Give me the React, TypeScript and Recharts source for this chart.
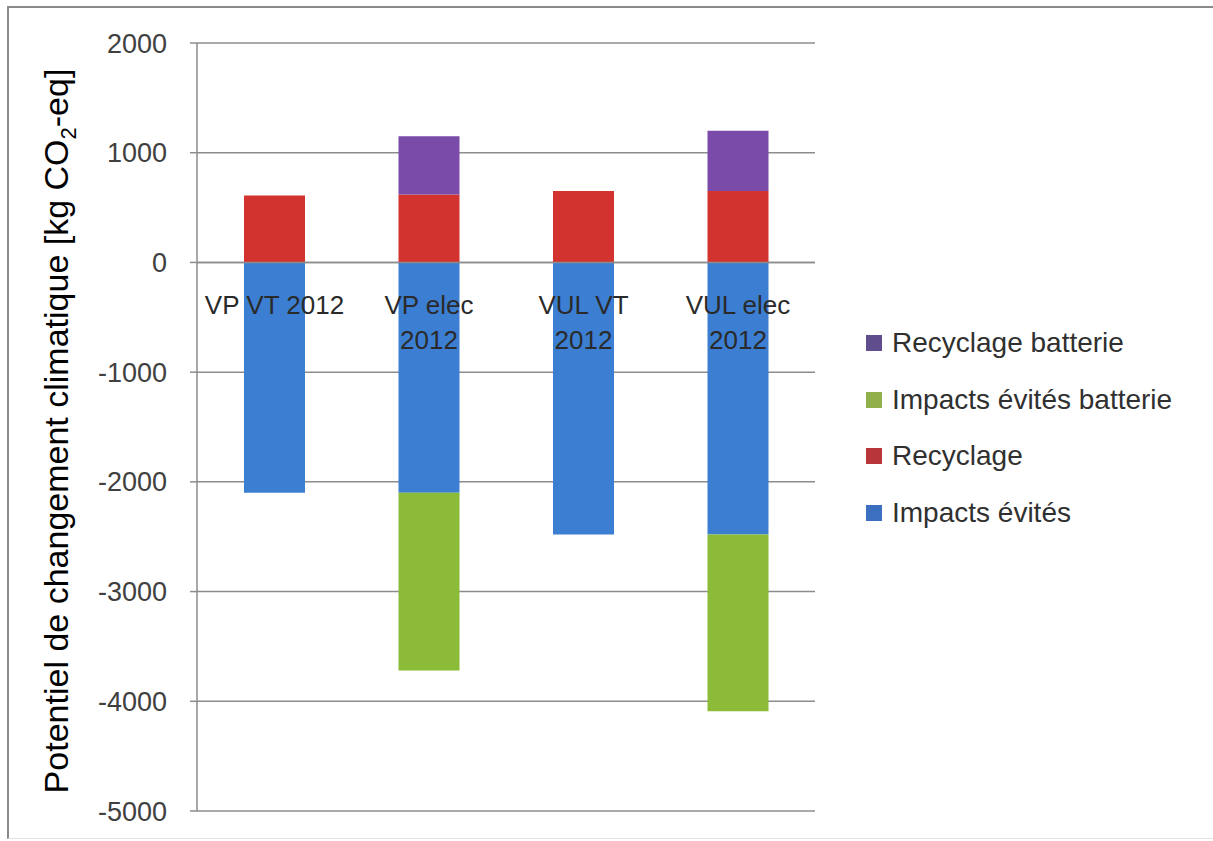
import React from 'react'
import {
  BarChart,
  Bar,
  XAxis,
  YAxis,
  CartesianGrid,
  LabelList,
  ReferenceLine,
} from 'recharts'

const categories = ['VP VT 2012', 'VP elec 2012', 'VUL VT 2012', 'VUL elec 2012']
const categoryLines = [['VP VT 2012'], ['VP elec', '2012'], ['VUL VT', '2012'], ['VUL elec', '2012']]
const impactsEvites = [-2100, -2100, -2480, -2480]
const recyclage = [610, 620, 650, 650]
const impactsEvitesBatterie = [0, -1620, 0, -1610]
const recyclageBatterie = [0, 530, 0, 550]
const yTicks = [-5000, -4000, -3000, -2000, -1000, 0, 1000, 2000]

const series = [
  { key: 'impactsEvites', name: 'Impacts évités', color: '#3c7fd2', mark: '#3b6fbf' },
  { key: 'recyclage', name: 'Recyclage', color: '#d3332f', mark: '#b8363a' },
  { key: 'impactsEvitesBatterie', name: 'Impacts évités batterie', color: '#8cbb38', mark: '#8fb04a' },
  { key: 'recyclageBatterie', name: 'Recyclage batterie', color: '#7a4ba8', mark: '#5f4d8e' },
]

const data = categories.map((name, i) => ({
  name,
  impactsEvites: impactsEvites[i],
  recyclage: recyclage[i],
  impactsEvitesBatterie: impactsEvitesBatterie[i],
  recyclageBatterie: recyclageBatterie[i],
}))

const FONT = '"Liberation Sans", Arial, sans-serif'

// category names sit just under the zero line, over the bars (Excel style)
const CategoryLabel = (props: any) => {
  const { x, y, width, height, index } = props
  const top = Math.min(y, y + height)
  const cx = x + width / 2
  const lines = categoryLines[index] || []
  return (
    <text x={cx} y={top + 52} textAnchor="middle" fontSize={26} fill="#2a2a2a" fontFamily={FONT}>
      {lines.map((l, i) => (
        <tspan key={i} x={cx} dy={i === 0 ? 0 : 35}>
          {l}
        </tspan>
      ))}
    </text>
  )
}

const YLabel = (props: any) => {
  const { viewBox } = props
  const x = viewBox.x + 56
  const y = viewBox.y + viewBox.height / 2 + 4
  return (
    <text
      x={x}
      y={y}
      transform={`rotate(-90, ${x}, ${y})`}
      textAnchor="middle"
      dominantBaseline="central"
      fontSize={34}
      fill="#000"
      fontFamily={FONT}
    >
      Potentiel de changement climatique [kg CO
      <tspan baselineShift="sub" fontSize={22}>2</tspan>
      <tspan>-eq]</tspan>
    </text>
  )
}

const LegendBox = () => (
  <div style={{ position: 'absolute', left: 866, top: 315, fontFamily: FONT, fontSize: 28, color: '#303030' }}>
    {[...series].reverse().map((s) => (
      <div key={s.key} style={{ display: 'flex', alignItems: 'center', height: 56.5, whiteSpace: 'nowrap' }}>
        <span style={{ width: 16, height: 16, background: s.mark, marginRight: 10, display: 'inline-block' }} />
        <span>{s.name}</span>
      </div>
    ))}
  </div>
)

export default function App() {
  return (
    <div style={{ position: 'absolute', left: 0, top: 0, width: 1213, height: 841, background: '#fff' }}>
      <div
        style={{
          position: 'absolute',
          left: 7,
          top: 6,
          width: 1204,
          height: 830,
          borderTop: '2px solid #8a8a8a',
          borderLeft: '2px solid #8a8a8a',
          borderRight: '1px solid #d0d0d0',
          borderBottom: '1px solid #e4e4e4',
        }}
      />
      <div style={{ position: 'absolute', left: 0, top: 0 }}>
        <BarChart
          width={1213}
          height={841}
          data={data}
          stackOffset="sign"
          barSize={61}
          margin={{ top: 43, right: 398, bottom: 30, left: 0 }}
        >
          <CartesianGrid vertical={false} stroke="#8c8c8c" strokeWidth={1.5} />
          <XAxis dataKey="name" hide />
          <YAxis
            width={197}
            domain={[-5000, 2000]}
            ticks={yTicks}
            interval={0}
            tickSize={7}
            tickMargin={23}
            stroke="#8c8c8c"
            strokeWidth={1.5}
            tick={{ fontSize: 27, fill: '#404040', fontFamily: FONT }}
            label={{ content: <YLabel /> }}
          />
          <ReferenceLine y={0} stroke="#8c8c8c" strokeWidth={1.5} />
          {series.map((s, i) => (
            <Bar
              key={s.key}
              dataKey={s.key}
              name={s.name}
              stackId="a"
              fill={s.color}
              isAnimationActive={false}
            >
              {i === 0 && <LabelList dataKey="name" content={<CategoryLabel />} />}
            </Bar>
          ))}
        </BarChart>
      </div>
      <LegendBox />
    </div>
  )
}
